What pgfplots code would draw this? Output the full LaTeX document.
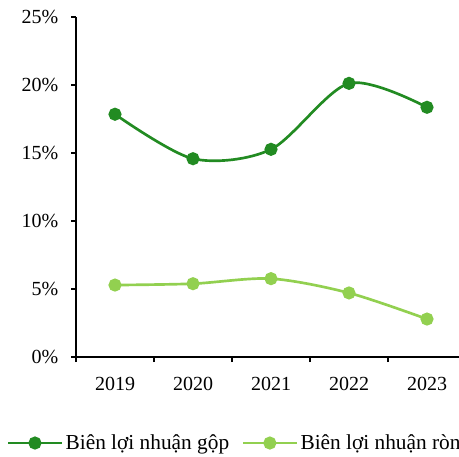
\documentclass[border=0pt]{standalone}
\usepackage{pgfplots}
\pgfplotsset{compat=1.18}
\usepackage{fontspec}
\setmainfont{Liberation Serif}

\definecolor{gopgreen}{HTML}{228B22}
\definecolor{ronggreen}{HTML}{92D050}

\begin{document}
\begin{tikzpicture}
% khung ảnh 459x456 px (1 px = 0.75pt), phần bên phải bị cắt như ảnh gốc
\useasboundingbox (0,0) rectangle (344.25pt,342pt);
\clip (0,0) rectangle (344.25pt,342pt);
\begin{axis}[
    at={(57pt,74.25pt)},
    anchor=south west,
    scale only axis,
    width=292.5pt,
    height=255pt,
    font=\fontsize{15}{18}\selectfont,
    /pgf/number format/assume math mode=true,
    xmin=0.5, xmax=5.5,
    ymin=0, ymax=25,
    axis x line*=bottom,
    axis y line*=left,
    xtick={1,2,3,4,5},
    xticklabels={2019,2020,2021,2022,2023},
    major x tick style={draw=none},
    minor xtick={0.5,1.5,2.5,3.5,4.5,5.5},
    ytick={0,5,10,15,20,25},
    yticklabel={\pgfmathprintnumber{\tick}\%},
    tick align=outside,
    major tick length=3.75pt,
    minor tick length=3.75pt,
    tick style={black, line width=0.8pt},
    axis line style={black, line width=0.8pt},
    every x tick label/.append style={yshift=-7.5pt},
    every y tick label/.append style={xshift=-6pt},
    legend columns=2,
    legend style={
        at={(-0.177,-0.253)}, anchor=west,
        draw=none, inner sep=0pt, outer sep=0pt,
        font=\fontsize{16}{19}\selectfont,
        /tikz/every even column/.append style={column sep=7.5pt},
    },
    legend cell align=left,
    legend image code/.code={
        \draw[mark repeat=2, mark phase=2, #1]
            plot coordinates {(0pt,0pt) (20pt,0pt) (40pt,0pt)};
    },
    every axis plot/.append style={line width=2pt, mark=*, mark size=3.9pt},
]

\addplot[gopgreen, smooth, mark options={fill=gopgreen, draw=none}]
coordinates {(1,17.85) (2,14.58) (3,15.27) (4,20.12) (5,18.36)};
\addlegendentry{Biên lợi nhuận gộp}

\addplot[ronggreen, smooth, mark options={fill=ronggreen, draw=none}]
coordinates {(1,5.29) (2,5.39) (3,5.76) (4,4.71) (5,2.79)};
\addlegendentry{Biên lợi nhuận ròng}

\end{axis}
\end{tikzpicture}
\end{document}
